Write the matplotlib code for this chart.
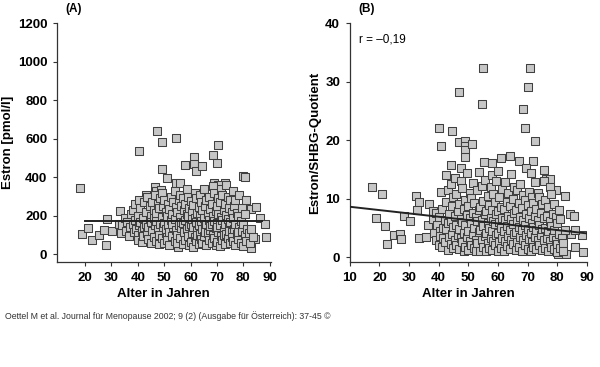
import matplotlib
matplotlib.use("Agg")
import matplotlib.pyplot as plt
from matplotlib import font_manager

plt.rcParams['font.family'] = ['Liberation Sans', 'DejaVu Sans']
names = {f.name for f in font_manager.fontManager.ttflist}
narrow = 'Liberation Sans Narrow' in names

# ---------------- Panel A: Estron vs age ----------------
a_outliers = [(18,343),(19,106),(21,137),(22.5,74),(25.3,98),(27.3,125),(27.8,51),(28.5,185),
              (30.3,120),(33.2,223),(33.6,111),(32.8,158),(40.5,537),(47.3,638),(49.2,581),
              (54.6,605),(49.3,444),(51.2,394),(58,463),(61.2,507),(61.2,468),(62.2,432),
              (64.2,459),(68.5,516),(70.4,569),(70.1,473),(80,408),(80.6,400),(81,283),
              (83,237),(84.6,245),(86.4,189),(88,158),(88.7,89),(84.5,82),(82.8,34),(55.4,38),
              (54.3,368),(55.8,372),(46.6,350),(47,330),(48.8,333),(43,309),(73,372),(68.9,372),
              (70.3,360)]
a_cloud = [(34,150),(35,190),(35.5,120),(36,170),(36.5,95),(37,140),(37.5,210),(38,160),(38.5,115),(38,230),
           (39,180),(39.5,130),(39,260),(40,100),(40.5,150),(40,200),(40.5,280),(40,75),(41,170),(41.5,120),
           (41,240),(41.5,65),(42,190),(42.5,140),(42,95),(42.5,270),
           (43,160),(43.5,110),(43,220),(43.5,300),(44,80),(44.5,180),(44,140),(44.5,250),(45,60),(45.5,120),
           (45,200),(45.5,270),(45,170),(46,90),(46.5,150),(46,230),(46.5,310),(46,190),(47,70),(47.5,130),
           (47,175),(47.5,260),(47,215),(48,100),(48.5,160),(48,240),(48.5,290),(48,55),(49,85),(49.5,140),
           (49,195),(49.5,250),(49,320),(50,60),(50.5,110),(50,165),(50.5,220),(50,280),(50.5,130),(51,90),
           (51.5,150),(51,200),(51.5,260),(51,75),(52,115),(52.5,180),(52,235),(52.5,300),(52,50),(53,95),
           (53.5,140),(53,210),(53.5,270),(53,160),(54,70),(54.5,125),(54,185),(54.5,245),(54,330),
           (55,100),(55.5,150),(55,220),(55.5,280),(55,60),(56,85),(56.5,135),(56,195),(56.5,250),(56,310),
           (56.5,170),(57,55),(57.5,115),(57,165),(57.5,230),(57,290),(58,75),(58.5,130),(58,180),(58.5,210),
           (58,260),(58.5,340),(59,95),(59.5,145),(59,200),(59.5,240),(59,300),(59.5,50),(60,65),(60.5,110),
           (60,160),(60.5,225),(60,275),(60.5,185),(61,40),(61.5,90),(61,140),(61.5,190),(61,255),(61.5,320),
           (62,70),(62.5,120),(62,170),(62.5,215),(62,290),(62.5,100),(63,55),(63.5,105),(63,150),(63.5,200),
           (63,245),(63.5,310),(64,80),(64.5,130),(64,175),(64.5,230),(64,270),(64.5,60),(65,95),(65.5,145),
           (65,190),(65.5,250),(65,340),(65.5,115),
           (66,50),(66.5,110),(66,160),(66.5,210),(66,280),(67,75),(67.5,125),(67,180),(67.5,235),(67,300),
           (67.5,145),(68,60),(68.5,100),(68,155),(68.5,200),(68,260),(68.5,355),(69,85),(69.5,135),(69,175),
           (69.5,225),(69,320),(69.5,50),(70,65),(70.5,115),(70,165),(70.5,210),(70,250),(70.5,290),(70,140),
           (71,45),(71.5,95),(71,150),(71.5,195),(71,270),(71.5,340),(72,75),(72.5,125),(72,180),(72.5,230),
           (72,310),(72.5,100),(73,55),(73.5,105),(73,160),(73.5,205),(73,260),(73.5,360),(74,85),(74.5,140),
           (74,185),(74.5,240),(74,300),(74.5,120),(75,60),(75.5,115),(75,170),(75.5,220),(75,280),(75.5,90),
           (76,70),(76.5,130),(76,190),(76.5,250),(76,330),(77,50),(77.5,105),(77,160),(77.5,215),(77,280),
           (78,80),(78.5,140),(78,200),(78.5,310),(78,115),(79,60),(79.5,120),(79,175),(79.5,240),(80,45),
           (80.5,100),(80,155),(80.5,210),(81,70),(81.5,130),(81,280),(82,110),(82.5,60),(83,130),(83.5,90)]
a_line_x = [20, 87]
a_line_y = [175, 175]

# ---------------- Panel B: Estron/SHBG vs age ----------------
b_outliers = [(17.4,12.0),(18.8,6.6),(20.9,10.7),(22,5.3),(22.5,2.3),(24.8,3.7),(27,4.0),(27.4,3.1),
              (28.3,7.0),(30.2,6.2),(32.2,10.4),(33.3,9.4),(32.8,8.0),(33.5,3.3),(35.8,3.5),
              (36.3,5.4),(36.9,9.0),(40.1,22.1),(40.7,19.0),(44.6,21.6),(46.9,28.3),(46.8,19.7),
              (49,19.9),(48.9,19),(49,18.3),(49,17.1),(51.1,19.4),(54.7,26.1),(54.9,32.4),
              (55.4,16.3),(58.1,16.1),(61.1,17),(64,17.3),(68.3,25.4),(69.0,22.1),(70.3,29),
              (70.8,32.3),(72.5,19.8),(71.8,16.4),(67,16.4),(75.7,14.9),(83,0.6),(80.2,0.5),
              (84.5,4),(86.1,1.7),(88.3,3.7),(88.7,0.9),(86,4.7),(84.2,7.4),(85.8,7.0),(82.8,10.5),
              (79.7,11.4),(76.1,13.3),(77.5,13.4),(44,15.7),(47.4,15.3),(40.8,11.1),(42.6,14.0)]
b_cloud = [(38,6.5),(38.5,4.2),(38,7.8),(39,3.0),(39.5,5.5),(39,7.5),(40,2.0),(40.5,4.5),(40,6.8),(40.5,3.6),
           (41,1.8),(41.5,5.0),(41,8.3),(41.5,3.2),(42,2.6),(42.5,4.8),(42,6.3),(42.5,9.5),(43,1.2),(43.5,3.5),
           (43,5.8),(43.5,7.4),(43,11.5),(44,2.2),(44.5,4.0),(44,6.2),(44.5,8.8),(44,12.5),(45,1.5),(45.5,3.0),
           (45,5.2),(45.5,7.0),(45,10.2),(45.5,13.5),
           (46,2.0),(46.5,3.8),(46,5.5),(46.5,7.8),(46,10.8),(47,1.4),(47.5,3.2),(47,4.8),(47.5,6.5),(47,9.0),
           (47.5,13.0),(48,2.5),(48.5,4.2),(48,6.0),(48.5,8.2),(48,11.8),(48.5,1.0),(49,1.8),(49.5,3.5),(49,5.4),
           (49.5,7.2),(49,9.8),(49.5,14.3),(50,1.2),(50.5,2.8),(50,4.5),(50.5,6.6),(50,8.8),(50.5,11.0),(51,2.0),
           (51.5,3.9),(51,5.8),(51.5,7.6),(51,10.1),(51.5,12.6),(52,1.5),(52.5,3.0),(52,4.9),(52.5,6.9),(52,9.3),
           (52.5,1.0),(53,2.4),(53.5,4.3),(53,6.1),(53.5,8.0),(53,11.5),(53.5,14.5),(54,1.1),(54.5,2.9),(54,4.7),
           (54.5,6.4),(54,8.6),(54.5,12.2),(55,1.8),(55.5,3.6),(55,5.3),(55.5,7.3),(55,9.6),(55.5,13.2),
           (56,1.0),(56.5,2.4),(56,4.1),(56.5,5.9),(56,7.9),(56.5,10.5),(57,1.5),(57.5,3.3),(57,5.0),(57.5,6.7),
           (57,8.9),(57.5,12.0),(58,1.2),(58.5,2.7),(58,4.4),(58.5,6.2),(58,8.1),(58.5,10.8),(58,14.0),(59,2.0),
           (59.5,3.8),(59,5.6),(59.5,7.4),(59,9.5),(59.5,13.0),(60,1.0),(60.5,2.5),(60,4.2),(60.5,6.0),(60,7.8),
           (60.5,10.2),(60,14.8),(61,1.6),(61.5,3.2),(61,4.9),(61.5,6.6),(61,8.5),(61.5,11.6),(62,1.1),(62.5,2.8),
           (62,4.5),(62.5,6.3),(62,8.2),(62.5,12.8),(63,1.9),(63.5,3.6),(63,5.3),(63.5,7.1),(63,9.4),(63.5,11.0),
           (64,1.3),(64.5,3.0),(64,4.7),(64.5,6.5),(64,8.8),(64.5,14.2),(65,2.2),(65.5,3.9),(65,5.6),(65.5,7.6),
           (65,10.0),(65.5,12.0),
           (66,1.2),(66.5,2.6),(66,4.3),(66.5,6.1),(66,8.0),(66.5,11.5),(67,1.7),(67.5,3.4),(67,5.1),(67.5,6.9),
           (67,9.2),(67.5,12.5),(68,1.0),(68.5,2.9),(68,4.6),(68.5,6.4),(68,8.4),(68.5,10.6),(69,2.1),(69.5,3.7),
           (69,5.4),(69.5,7.3),(69,9.8),(69.5,15.2),(70,1.4),(70.5,3.1),(70,4.8),(70.5,6.7),(70,8.9),(70.5,11.2),
           (71,1.1),(71.5,2.5),(71,4.2),(71.5,5.9),(71,7.8),(71.5,10.3),(71,14.4),(72,1.8),(72.5,3.5),(72,5.2),
           (72.5,7.0),(72,9.3),(72.5,12.9),(73,1.3),(73.5,2.9),(73,4.6),(73.5,6.3),(73,8.3),(73.5,11.0),(74,2.0),
           (74.5,3.7),(74,5.5),(74.5,7.5),(74,10.2),(75,1.2),(75.5,3.0),(75,4.8),(75.5,6.6),(75,9.0),(75.5,13.0),
           (76,1.6),(76.5,3.3),(76,5.0),(76.5,7.0),(76,9.7),(77,1.1),(77.5,2.7),(77,4.4),(77.5,6.2),(77,8.5),
           (77.5,12.0),(78,1.8),(78.5,3.5),(78,5.3),(78.5,7.4),(78,10.8),(79,1.3),(79.5,3.0),(79,4.7),(79.5,6.8),
           (79,9.0),(80,2.2),(80.5,4.0),(80,5.8),(80.5,8.0),(80,0.8),(81,1.5),(81.5,3.2),(81,6.5),(82,2.4),
           (82.5,4.6),(82,1.0)]
b_line_x = [10, 90]
b_line_y = [8.6, 4.05]

a_xticks = [20, 30, 40, 50, 60, 70, 80, 90]
a_yticks = [0, 200, 400, 600, 800, 1000, 1200]
b_xticks = [10, 20, 30, 40, 50, 60, 70, 80, 90]
b_yticks = [0, 10, 20, 30, 40]

xlabel = "Alter in Jahren"
a_ylabel = "Estron [pmol/l]"
b_ylabel = "Estron/SHBG-Quotient"
b_annot = "r = \u20130,19"
footer = "Oettel M et al. Journal für Menopause 2002; 9 (2) (Ausgabe für Österreich): 37-45 \u00a9"

fig = plt.figure(figsize=(6.0, 3.67), dpi=100)
axA = fig.add_axes([0.095, 0.286, 0.356, 0.651])
axB = fig.add_axes([0.583, 0.286, 0.395, 0.651])

mk = dict(marker='s', s=30, facecolor='#c6c6c6', edgecolor='#404040', linewidths=0.75, zorder=2)

def style(ax, xt, yt):
    for side in ('top', 'right'):
        ax.spines[side].set_visible(False)
    for side in ('left', 'bottom'):
        ax.spines[side].set_color('#333333')
        ax.spines[side].set_linewidth(0.9)
    ax.set_xticks(xt)
    ax.set_yticks(yt)
    ax.tick_params(direction='out', length=3, width=0.8, color='#333333', labelsize=9.5, pad=4)
    for lab in ax.get_xticklabels() + ax.get_yticklabels():
        lab.set_fontweight('bold')
    ax.set_xlabel(xlabel, fontsize=9.5, fontweight='bold', labelpad=3)

allA = a_outliers + a_cloud
axA.scatter([p[0] for p in allA], [p[1] for p in allA], **mk)
axA.plot(a_line_x, a_line_y, color='#222222', lw=1.4, zorder=3)
axA.set_xlim(9.4, 90.3)
axA.set_ylim(-40, 1200)
style(axA, a_xticks, a_yticks)
axA.set_ylabel(a_ylabel, fontsize=9.5, fontweight='bold', labelpad=3)
axA.text(0.04, 1.035, "(A)", transform=axA.transAxes, fontsize=8.5, fontweight='bold', va='bottom')

allB = b_outliers + b_cloud
axB.scatter([p[0] for p in allB], [p[1] for p in allB], **mk)
axB.plot(b_line_x, b_line_y, color='#222222', lw=1.4, zorder=3)
axB.set_xlim(10, 90)
axB.set_ylim(-0.85, 40)
style(axB, b_xticks, b_yticks)
axB.set_ylabel(b_ylabel, fontsize=9.5, fontweight='bold', labelpad=3)
axB.text(0.035, 1.035, "(B)", transform=axB.transAxes, fontsize=8.5, fontweight='bold', va='bottom')
axB.text(0.04, 0.93, b_annot, transform=axB.transAxes, fontsize=8.5, va='center')

if narrow:
    fig.text(0.008, 0.139, footer, fontsize=8, color='#333333', va='center', ha='left',
             family=['Liberation Sans Narrow', 'DejaVu Sans'])
else:
    fig.text(0.008, 0.139, footer, fontsize=6.3, color='#333333', va='center', ha='left')

fig.savefig("out.png", dpi=100)
